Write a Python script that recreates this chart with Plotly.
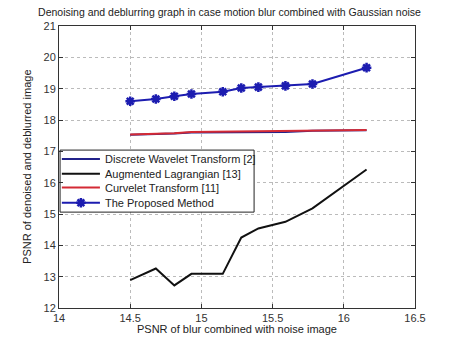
import plotly.graph_objects as go

# x values (PSNR of blur combined with noise image)
x_vals = [14.5, 14.68, 14.81, 14.93, 15.15, 15.28, 15.40, 15.59, 15.78, 16.16]

# series values
dwt = [17.53, 17.54, 17.57, 17.60, 17.61, 17.62, 17.61, 17.62, 17.66, 17.67]
augmented = [12.89, 13.26, 12.72, 13.09, 13.09, 14.25, 14.54, 14.75, 15.18, 16.42]
curvelet = [17.54, 17.56, 17.58, 17.62, 17.63, 17.64, 17.65, 17.66, 17.67, 17.68]
proposed = [18.60, 18.67, 18.76, 18.83, 18.90, 19.02, 19.05, 19.09, 19.15, 19.67]

series_names = ["Discrete Wavelet Transform [2]", "Augmented Lagrangian [13]",
                "Curvelet Transform [11]", "The Proposed Method"]
series_colors = ["#22228a", "#111111", "#d42a35", "#1c1cb0"]

x_ticks = [14, 14.5, 15, 15.5, 16, 16.5]
x_tick_labels = ["14", "14.5", "15", "15.5", "16", "16.5"]
y_ticks = [12, 13, 14, 15, 16, 17, 18, 19, 20, 21]

FONT = "Liberation Sans, Arial, sans-serif"
TXT = "#222222"

fig = go.Figure()
for name, vals, col in zip(series_names[:3], [dwt, augmented, curvelet], series_colors[:3]):
    fig.add_trace(go.Scatter(x=x_vals, y=vals, mode="lines", name=name,
                             line=dict(color=col, width=2), showlegend=False))
fig.add_trace(go.Scatter(x=x_vals, y=proposed, mode="lines+markers", name=series_names[3],
                         line=dict(color=series_colors[3], width=2), showlegend=False,
                         marker=dict(symbol="asterisk-open", size=8, color=series_colors[3],
                                     line=dict(color=series_colors[3], width=2.5))))

# ---- legend box (drawn inside the axes, MATLAB style) on an overlay axis in [0,1] ----
lg_left, lg_right, lg_top, lg_bottom = 0.003, 0.548, 0.560, 0.340
row_y = [0.528, 0.476, 0.427, 0.373]
samp_x0, samp_x1, text_x = 0.008, 0.115, 0.123

fig.add_trace(go.Scatter(x=[lg_left, lg_right, lg_right, lg_left, lg_left],
                         y=[lg_bottom, lg_bottom, lg_top, lg_top, lg_bottom],
                         xaxis="x2", yaxis="y2", mode="lines", fill="toself",
                         fillcolor="white", line=dict(color="#222222", width=1),
                         showlegend=False, hoverinfo="skip"))
for i, (name, col) in enumerate(zip(series_names, series_colors)):
    fig.add_trace(go.Scatter(x=[samp_x0, samp_x1], y=[row_y[i], row_y[i]],
                             xaxis="x2", yaxis="y2", mode="lines", showlegend=False,
                             hoverinfo="skip", line=dict(color=col, width=2)))
    if i == 3:
        fig.add_trace(go.Scatter(x=[(samp_x0 + samp_x1) / 2], y=[row_y[i]],
                                 xaxis="x2", yaxis="y2", mode="markers", showlegend=False,
                                 hoverinfo="skip",
                                 marker=dict(symbol="asterisk-open", size=8, color=col,
                                             line=dict(color=col, width=2.5))))
    fig.add_annotation(xref="x2", yref="y2", x=text_x, y=row_y[i],
                       xanchor="left", yanchor="middle", text=name, showarrow=False,
                       font=dict(family=FONT, size=11, color=TXT))

# axis titles
fig.add_annotation(xref="paper", yref="paper", x=-0.09, y=0.5, textangle=-90,
                   xanchor="center", yanchor="middle", showarrow=False,
                   text="PSNR of denoised and deblurred image",
                   font=dict(family=FONT, size=11, color=TXT))
fig.add_annotation(xref="paper", yref="paper", x=0.5, y=-0.075,
                   xanchor="center", yanchor="middle", showarrow=False,
                   text="PSNR of blur combined with noise image",
                   font=dict(family=FONT, size=11, color=TXT))

fig.update_layout(
    width=459, height=345,
    margin=dict(l=59, r=44, t=26, b=37),
    paper_bgcolor="white", plot_bgcolor="white",
    font=dict(family=FONT, size=11, color="#333333"),
    title=dict(text="Denoising and deblurring graph in case motion blur combined with Gaussian noise",
               x=0.5, xanchor="center", y=0.965, yanchor="middle",
               font=dict(family=FONT, size=10.5, color=TXT)),
    showlegend=False,
    xaxis=dict(range=[14, 16.5], tickvals=x_ticks, ticktext=x_tick_labels,
               showline=True, linecolor="#333333", linewidth=1, mirror="ticks",
               ticks="inside", ticklen=4, tickcolor="#333333",
               showgrid=True, gridcolor="#bbbbbb", griddash="dot", gridwidth=1,
               zeroline=False),
    yaxis=dict(range=[12, 21], tickvals=y_ticks,
               showline=True, linecolor="#333333", linewidth=1, mirror="ticks",
               ticks="inside", ticklen=4, tickcolor="#333333",
               showgrid=True, gridcolor="#bbbbbb", griddash="dot", gridwidth=1,
               zeroline=False),
    xaxis2=dict(overlaying="x", range=[0, 1], visible=False, fixedrange=True),
    yaxis2=dict(overlaying="y", range=[0, 1], visible=False, fixedrange=True),
)

fig.write_html("out.html", config={"displayModeBar": False},
               post_script="document.body.style.margin='0';document.body.style.overflow='hidden';")
